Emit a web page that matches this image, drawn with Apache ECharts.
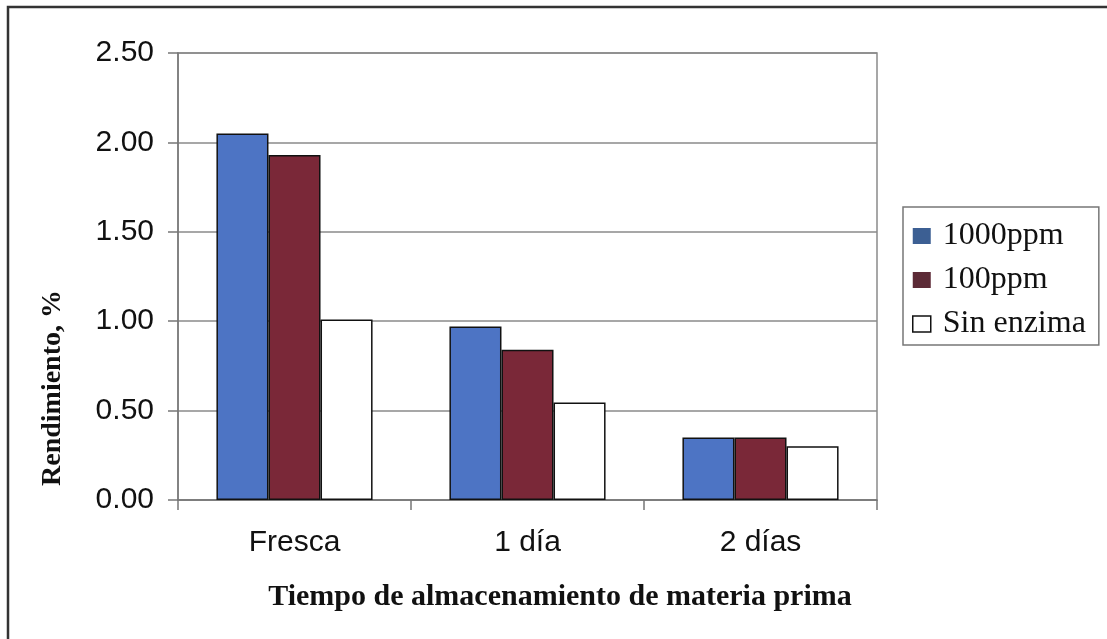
<!DOCTYPE html>
<html>
<head>
<meta charset="utf-8">
<script src="https://cdn.jsdelivr.net/npm/echarts@6/dist/echarts.min.js"></script>
<style>
    html, body { margin: 0; padding: 0; background: #fff; }
    #chart { width: 1107px; height: 639px; }
</style>
</head>
<body>
<div id="chart"></div>
<script>
const categories = ["Fresca", "1 día", "2 días"];
const ppm1000 = [2.05, 0.97, 0.35];
const ppm100 = [1.93, 0.84, 0.35];
const sinEnzima = [1.01, 0.545, 0.30];
const yTicks = { min: 0, max: 2.5, interval: 0.5 };

const chart = echarts.init(document.getElementById("chart"), null, { renderer: "canvas" });

const barBorder = { borderColor: "#111", borderWidth: 1.5 };

chart.setOption({
    backgroundColor: "#fff",
    animation: false,
    grid: {
        left: 178,
        right: 230,
        top: 53,
        bottom: 139,
        show: true,
        borderColor: "#8a8a8a",
        borderWidth: 1.5
    },
    legend: {
        orient: "vertical",
        left: 903,
        top: 207,
        padding: [13, 13, 5, 9],
        itemGap: 12,
        itemWidth: 18,
        itemHeight: 16,
        icon: "rect",
        borderColor: "#777",
        borderWidth: 1.5,
        textStyle: {
            fontFamily: "Liberation Serif",
            fontSize: 32,
            lineHeight: 30,
            color: "#111",
            padding: [0, 0, 0, 7]
        },
        data: [
            { name: "1000ppm", itemStyle: { color: "#3c5f93", borderWidth: 0 } },
            { name: "100ppm", itemStyle: { color: "#5c2a36", borderWidth: 0 } },
            { name: "Sin enzima", itemStyle: { color: "#fff", borderColor: "#111", borderWidth: 1.5 } }
        ]
    },
    xAxis: {
        type: "category",
        data: categories,
        axisLine: { lineStyle: { color: "#777", width: 1.5 } },
        axisTick: { show: true, length: 10, alignWithLabel: false, lineStyle: { color: "#777", width: 1.5 } },
        axisLabel: {
            margin: 28,
            fontFamily: "Liberation Sans",
            fontSize: 30,
            color: "#111"
        }
    },
    yAxis: {
        type: "value",
        min: yTicks.min,
        max: yTicks.max,
        interval: yTicks.interval,
        axisLine: { show: true, lineStyle: { color: "#777", width: 1.5 } },
        axisTick: { show: true, length: 10, lineStyle: { color: "#777", width: 1.5 } },
        splitLine: { lineStyle: { color: "#8a8a8a", width: 1.5 } },
        axisLabel: {
            margin: 24,
            fontFamily: "Liberation Sans",
            fontSize: 30,
            color: "#111",
            formatter: v => v.toFixed(2)
        }
    },
    graphic: [
        {
            type: "rect",
            shape: { x: 8, y: 7, width: 1120, height: 650 },
            style: { fill: "none", stroke: "#333", lineWidth: 2.5 },
            silent: true
        },
        {
            type: "text",
            x: 53,
            y: 388,
            rotation: Math.PI / 2,
            style: {
                text: "Rendimiento, %",
                fontFamily: "Liberation Serif",
                fontWeight: "bold",
                fontSize: 28,
                fill: "#111",
                textAlign: "center",
                textVerticalAlign: "middle"
            }
        },
        {
            type: "text",
            x: 560,
            y: 597,
            style: {
                text: "Tiempo de almacenamiento de materia prima",
                fontFamily: "Liberation Serif",
                fontWeight: "bold",
                fontSize: 30,
                fill: "#111",
                textAlign: "center",
                textVerticalAlign: "middle"
            }
        }
    ],
    series: [
        {
            name: "1000ppm",
            type: "bar",
            data: ppm1000,
            barGap: "0%",
            barCategoryGap: "33%",
            itemStyle: Object.assign({ color: "#4d74c4" }, barBorder)
        },
        {
            name: "100ppm",
            type: "bar",
            data: ppm100,
            itemStyle: Object.assign({ color: "#7a2838" }, barBorder)
        },
        {
            name: "Sin enzima",
            type: "bar",
            data: sinEnzima,
            itemStyle: Object.assign({ color: "#fff" }, barBorder)
        }
    ]
});
</script>
</body>
</html>
